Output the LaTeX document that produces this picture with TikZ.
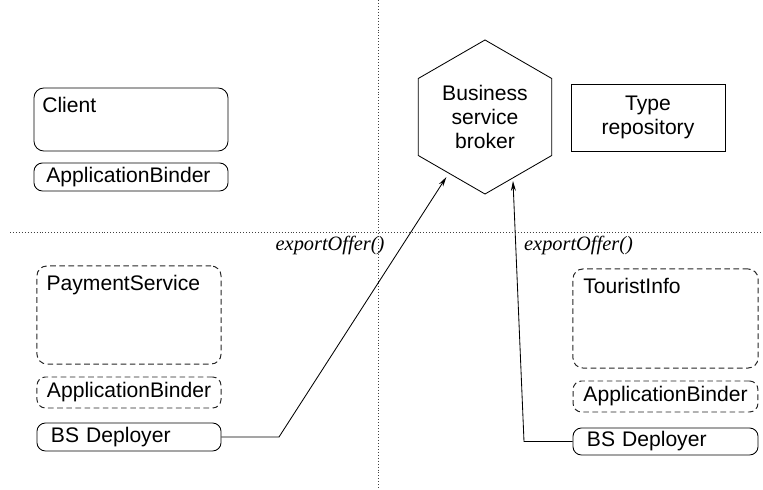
\documentclass[tikz,border=0pt]{standalone}
\usepackage{fontspec}
\setmainfont{Liberation Serif}
\setsansfont{Liberation Sans}
\usetikzlibrary{shapes.geometric,arrows.meta}
\tikzset{part/.style={draw,rounded corners=6pt,line width=0.6pt,font=\sffamily\fontsize{15}{17}\selectfont,align=left,inner ysep=0pt,minimum height=0.7cm}}
\tikzset{dpart/.style={part,draw=black!85,line width=0.7pt,dash pattern=on 4pt off 2.5pt}}
\tikzset{frame/.style={draw,rounded corners=7pt,line width=0.6pt,inner sep=0pt}}
\tikzset{dframe/.style={frame,draw=black!85,line width=0.7pt,dash pattern=on 4pt off 2.5pt}}
\tikzset{tag/.style={font=\sffamily\fontsize{15}{17}\selectfont,inner sep=0pt,anchor=north west}}
\tikzset{divider/.style={draw=black!75,line width=0.6pt,dash pattern=on 0.7pt off 1.4pt}}
\tikzset{call/.style={font=\itshape\fontsize{14.5}{17}\selectfont,inner sep=0pt}}

\begin{document}
\begin{tikzpicture}[x=0.025cm,y=-0.025cm,>={Stealth[length=7pt,width=3.5pt]}]
    \useasboundingbox (0,0) rectangle (763,490);

    % dividers
    \coordinate (vtop) at (378,0);
    \coordinate (vbot) at (378,490);
    \coordinate (hleft) at (10,232);
    \coordinate (hright) at (763,232);
    \draw [divider] (vtop) -- (vbot);
    \draw [divider] (hleft) -- (hright);

    % client side
    \node[frame,minimum width=4.85cm,minimum height=1.575cm] (client) at (131,119.5) {};
    \node[tag] (clientname) at ([xshift=6pt,yshift=-6.4pt]client.north west) {Client};
    \node[part,text width=4.23cm,inner xsep=0.31cm] (binderA) at (131,177) {ApplicationBinder};

    % broker side
    \node[regular polygon,regular polygon sides=6,shape border rotate=30,draw,line width=0.6pt,minimum size=3.85cm,inner sep=0pt,align=center,font=\sffamily\fontsize{15}{17}\selectfont] (broker) at (485,117) {Business\\service\\broker};
    \node[draw,line width=0.6pt,minimum width=3.85cm,minimum height=1.675cm,align=center,font=\sffamily\fontsize{15}{17}\selectfont] (typerepo) at (648,117.5) {Type\\repository};

    % payment service
    \node[dframe,minimum width=4.6cm,minimum height=2.45cm] (payment) at (129,315) {};
    \node[tag] (paymentname) at ([xshift=7pt,yshift=-6.4pt]payment.north west) {PaymentService};
    \node[dpart,text width=4.1cm,inner xsep=0.25cm,minimum height=0.775cm] (binderB) at (129,392.5) {ApplicationBinder};
    \node[part,text width=3.9cm,inner xsep=0.35cm] (deployerA) at (129,437) {BS Deployer};

    % tourist info
    \node[dframe,minimum width=4.625cm,minimum height=2.475cm] (tourist) at (665.5,318.5) {};
    \node[tag] (touristname) at ([xshift=7.5pt,yshift=-7pt]tourist.north west) {TouristInfo};
    \node[dpart,text width=4.1cm,inner xsep=0.26cm,minimum height=0.775cm] (binderC) at (665.5,396.5) {ApplicationBinder};
    \node[part,text width=3.925cm,inner xsep=0.35cm,minimum height=0.675cm] (deployerB) at (665.5,441.5) {BS Deployer};

    % calls
    \coordinate (bendA) at (279,437);
    \coordinate (bendB) at (524,441.5);
    \coordinate (tipB) at (513,181);
    \node[call] (callA) at (330,245) {exportOffer()};
    \node[call] (callB) at (578.5,245) {exportOffer()};
    \draw [->,line width=0.6pt,shorten >=3pt] (deployerA.east) -- (bendA) -- (broker);
    \draw [->,line width=0.6pt] (deployerB.west) -- (bendB) -- (tipB);
\end{tikzpicture}
\end{document}
